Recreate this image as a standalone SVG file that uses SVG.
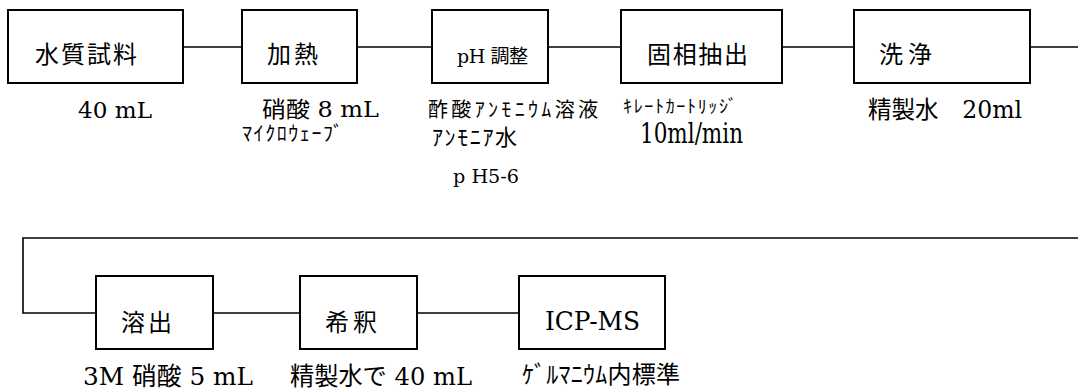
<svg xmlns="http://www.w3.org/2000/svg" width="1078" height="389" viewBox="0 0 1078 389">
<style>
.box{fill:#fff;stroke:#000;stroke-width:2}
.conn{fill:none;stroke:#000;stroke-width:1.6}
text{font-family:"DejaVu Serif","Noto Sans CJK JP",serif;fill:#000}
</style>
<rect width="1078" height="389" fill="#fff"/>
<g id="connectors">
<path class="conn" d="M183 47H242M357 47H432M548 47H621M782 47H854M1030 47H1078"/>
<path class="conn" d="M1078 238H23V313H96" stroke-width="2"/>
<path class="conn" d="M213 313H300M417 313H519"/>
</g>
<g id="n1"><rect class="box" x="8" y="10" width="175" height="73"/>
<text x="35" y="63" font-size="24" textLength="102" lengthAdjust="spacing">水質試料</text>
<text x="78" y="118" font-size="22" textLength="74" lengthAdjust="spacingAndGlyphs">40 mL</text></g>
<g id="n2"><rect class="box" x="242" y="10" width="115" height="73"/>
<text x="267" y="63" font-size="24" textLength="51" lengthAdjust="spacing">加熱</text>
<text x="262" y="117" font-size="22" textLength="117" lengthAdjust="spacingAndGlyphs">硝酸  8 mL</text>
<text x="242" y="141" font-size="20" textLength="101" lengthAdjust="spacing">ﾏｲｸﾛｳｪｰﾌﾞ</text></g>
<g id="n3"><rect class="box" x="432" y="10" width="116" height="73"/>
<text x="457" y="63" font-size="19" textLength="71" lengthAdjust="spacing">pH 調整</text>
<text x="428" y="117" font-size="20" textLength="170" lengthAdjust="spacing">酢酸ｱﾝﾓﾆｳﾑ溶液</text>
<text x="432" y="145" font-size="22" textLength="85" lengthAdjust="spacing">ｱﾝﾓﾆｱ水</text>
<text x="453" y="183" font-size="18" textLength="66" lengthAdjust="spacingAndGlyphs">p H5-6</text></g>
<g id="n4"><rect class="box" x="621" y="10" width="161" height="73"/>
<text x="647" y="63" font-size="24" textLength="101" lengthAdjust="spacing">固相抽出</text>
<text x="623" y="113" font-size="18" textLength="114" lengthAdjust="spacing">ｷﾚｰﾄｶｰﾄﾘｯｼﾞ</text>
<text x="640" y="143" font-size="27" textLength="103" lengthAdjust="spacingAndGlyphs">10ml/min</text></g>
<g id="n5"><rect class="box" x="854" y="10" width="176" height="73"/>
<text x="879" y="63" font-size="24" textLength="53" lengthAdjust="spacing">洗浄</text>
<text x="868" y="118" font-size="24" textLength="154" lengthAdjust="spacingAndGlyphs">精製水　20ml</text></g>
<g id="n6"><rect class="box" x="96" y="276" width="117" height="73"/>
<text x="121" y="331" font-size="24" textLength="51" lengthAdjust="spacing">溶出</text>
<text x="83" y="385" font-size="25" textLength="170" lengthAdjust="spacingAndGlyphs">3M 硝酸 5  mL</text></g>
<g id="n7"><rect class="box" x="300" y="276" width="117" height="73"/>
<text x="325" y="331" font-size="24" textLength="52" lengthAdjust="spacing">希釈</text>
<text x="290" y="385" font-size="25" textLength="182" lengthAdjust="spacingAndGlyphs">精製水で 40  mL</text></g>
<g id="n8"><rect class="box" x="519" y="276" width="146" height="73"/>
<text x="545" y="330" font-size="26" textLength="95" lengthAdjust="spacingAndGlyphs">ICP-MS</text>
<text x="522" y="383" font-size="24" textLength="158" lengthAdjust="spacing">ｹﾞﾙﾏﾆｳﾑ内標準</text></g>
</svg>
